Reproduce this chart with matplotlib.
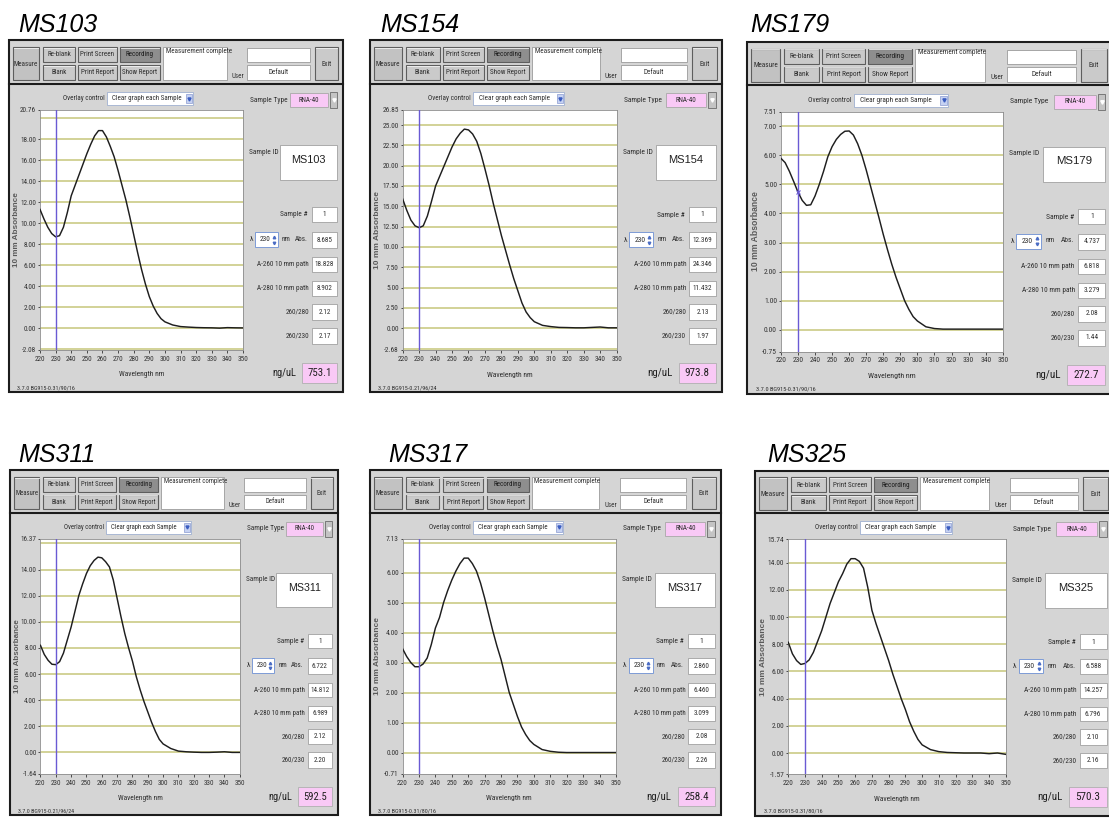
import numpy as np
import matplotlib
matplotlib.use('Agg')
import matplotlib.pyplot as plt
from matplotlib.patches import Rectangle
from matplotlib import font_manager as fm

# ---------------- data ----------------
wavelengths = [220, 222.5, 225, 227.5, 230, 232.5, 235, 237.5, 240, 242.5, 245, 247.5,
               250, 252.5, 255, 257.5, 260, 262.5, 265, 267.5, 270, 272.5, 275, 277.5,
               280, 282.5, 285, 287.5, 290, 292.5, 295, 297.5, 300, 305, 310, 315, 320,
               325, 330, 335, 340, 345, 350]

sample_ids = ['MS103', 'MS154', 'MS179', 'MS311', 'MS317', 'MS325']

abs_ms103 = [11.3, 10.4, 9.6, 9.0, 8.69, 8.8, 9.6, 11.0, 12.6, 13.6, 14.6, 15.6, 16.6, 17.5,
             18.3, 18.8, 18.8, 18.2, 17.3, 16.3, 15.0, 13.6, 12.2, 10.6, 8.9, 7.2, 5.6, 4.2,
             3.0, 2.1, 1.4, 0.9, 0.6, 0.3, 0.15, 0.1, 0.06, 0.04, 0.03, 0.0, 0.05, 0.03, 0.02]
abs_ms154 = [15.9, 14.5, 13.3, 12.6, 12.37, 12.6, 13.8, 15.6, 17.5, 18.7, 19.9, 21.1, 22.3,
             23.3, 24.0, 24.5, 24.4, 23.9, 23.0, 21.5, 19.6, 17.6, 15.4, 13.4, 11.4, 9.6, 7.8,
             6.1, 4.6, 3.1, 2.0, 1.3, 0.8, 0.35, 0.2, 0.1, 0.08, 0.05, 0.05, 0.1, 0.15, 0.05, 0.05]
abs_ms179 = [5.9, 5.75, 5.45, 5.1, 4.74, 4.45, 4.28, 4.3, 4.6, 5.0, 5.45, 5.95, 6.3, 6.55,
             6.72, 6.83, 6.84, 6.7, 6.4, 6.0, 5.5, 4.95, 4.4, 3.85, 3.28, 2.75, 2.25, 1.8,
             1.4, 1.0, 0.7, 0.45, 0.3, 0.1, 0.04, 0.02, 0.02, 0.02, 0.02, 0.02, 0.02, 0.02, 0.02]
abs_ms311 = [8.2, 7.5, 7.05, 6.75, 6.72, 6.95, 7.6, 8.6, 9.6, 10.8, 12.0, 12.9, 13.7, 14.3,
             14.7, 14.95, 14.9, 14.6, 14.2, 13.2, 11.8, 10.4, 9.1, 8.0, 6.99, 5.8, 4.8, 3.9,
             3.1, 2.3, 1.6, 1.0, 0.65, 0.3, 0.1, 0.05, 0.02, 0.0, 0.0, 0.02, 0.05, 0.0, 0.0]
abs_ms317 = [3.46, 3.2, 3.0, 2.86, 2.86, 2.95, 3.15, 3.6, 4.15, 4.5, 5.0, 5.4, 5.75, 6.05,
             6.3, 6.48, 6.48, 6.3, 6.05, 5.65, 5.15, 4.6, 4.05, 3.55, 3.1, 2.55, 2.0, 1.6,
             1.2, 0.85, 0.6, 0.4, 0.27, 0.1, 0.04, 0.01, 0.0, 0.0, 0.0, 0.0, 0.0, 0.0, 0.0]
abs_ms325 = [8.15, 7.3, 6.8, 6.52, 6.59, 6.85, 7.4, 8.2, 9.0, 10.0, 11.0, 11.8, 12.6, 13.2,
             13.9, 14.3, 14.3, 14.1, 13.6, 12.2, 10.5, 9.5, 8.6, 7.7, 6.8, 5.8, 4.9, 4.0,
             3.2, 2.3, 1.6, 1.0, 0.6, 0.25, 0.1, 0.04, 0.02, 0.0, 0.0, 0.0, -0.05, 0.0, -0.1]
spectra = [abs_ms103, abs_ms154, abs_ms179, abs_ms311, abs_ms317, abs_ms325]

y_limits = [(-2.08, 20.76), (-2.68, 26.85), (-0.75, 7.51),
            (-1.64, 16.37), (-0.71, 7.13), (-1.57, 15.74)]
grid_steps = [2, 2.5, 1, 2, 1, 2]
x_ticks = [220, 230, 240, 250, 260, 270, 280, 290, 300, 310, 320, 330, 340, 350]

cursor_nm = 230
abs_at_cursor = [8.685, 12.369, 4.737, 6.722, 2.860, 6.588]
a260_values = [18.828, 24.346, 6.818, 14.812, 6.460, 14.257]
a280_values = [8.902, 11.432, 3.279, 6.989, 3.099, 6.796]
ratio_260_280 = [2.12, 2.13, 2.08, 2.12, 2.08, 2.10]
ratio_260_230 = [2.17, 1.97, 1.44, 2.20, 2.26, 2.16]
conc_ng_ul = [753.1, 973.8, 272.7, 592.5, 258.4, 570.3]
footer_texts = ['3.7.0 BG915-0.31/90/16', '3.7.0 BG915-0.21/96/24', '3.7.0 BG915-0.31/90/16',
                '3.7.0 BG915-0.21/96/24', '3.7.0 BG915-0.31/80/16', '3.7.0 BG915-0.31/80/16']
sample_type = 'RNA-40'

# ---------------- fonts ----------------
_entries = fm.fontManager.ttflist
_names = {f.name for f in _entries}
NARROW_NAME = None
STRETCH = 'normal'
for cand in ['Liberation Sans Narrow', 'Arial Narrow', 'Roboto Condensed',
             'Open Sans Condensed', 'Noto Sans Condensed', 'DejaVu Sans Condensed']:
    if cand in _names:
        NARROW_NAME = cand
        break
if NARROW_NAME is None:
    for fam in ['DejaVu Sans', 'Noto Sans', 'Roboto', 'Open Sans']:
        if any(f.name == fam and f.stretch in ('condensed', 'semi-condensed')
               for f in _entries):
            NARROW_NAME = fam
            STRETCH = 'condensed'
            break
FS = 1.0 if NARROW_NAME else 0.84
NARROW = [NARROW_NAME or 'Liberation Sans', 'DejaVu Sans']
SANS = ['Liberation Sans', 'DejaVu Sans']
plt.rcParams['font.family'] = NARROW
plt.rcParams['font.stretch'] = STRETCH

# ---------------- layout ----------------
W, H = 1109, 818
RW, RH = 334.0, 352.0
frames = [(9, 40, 334, 352), (370, 40, 352, 352), (747, 41.5, 365, 352),
          (10, 470, 328, 345), (370, 470, 351, 345), (755, 470.5, 358, 345)]
title_xy = [(18, 32), (380, 32), (750, 32), (18, 462), (388, 462), (767, 462)]

PANEL = '#d5d5d5'
BTN = '#cacaca'
TXT = '#2e2e2e'
PINK = '#f9c9f6'
GRID = '#c6c67a'
CURSOR = '#6a5ad4'

fig = plt.figure(figsize=(W / 100, H / 100), dpi=100)
fig.patch.set_facecolor('white')
bg = fig.add_axes([0, 0, 1, 1])
bg.set_xlim(0, W)
bg.set_ylim(H, 0)
bg.axis('off')


def draw_panel(i):
    x0, y0, w, h = frames[i]
    sx, sy = w / RW, h / RH
    k = (sx + sy) / 2.0

    def X(u):
        return x0 + u * sx

    def Y(v):
        return y0 + v * sy

    def box(u0, v0, u1, v1, fc, ec='#6a6a6a', lw=0.7, z=2):
        bg.add_patch(Rectangle((X(u0), Y(v0)), (u1 - u0) * sx, (v1 - v0) * sy,
                               facecolor=fc, edgecolor=ec, linewidth=lw, zorder=z))

    def label(u, v, s, size=5.0, ha='center', color=TXT, family=None, va='center',
              scale=True, **kw):
        fsz = size * k * (FS if scale else 1.0)
        bg.text(X(u), Y(v), s, fontsize=fsz, ha=ha, va=va, color=color,
                family=family if family else NARROW,
                fontstretch=STRETCH if family is None else 'normal', zorder=6, **kw)

    def button(u0, v0, u1, v1, s, fc=BTN, tc=TXT):
        box(u0, v0, u1, v1, fc, '#5e5e5e', 0.8, 3)
        bg.plot([X(u0) + 0.8, X(u1) - 0.8], [Y(v0) + 0.8, Y(v0) + 0.8], color='#f2f2f2',
                lw=0.6, zorder=4)
        label((u0 + u1) / 2, (v0 + v1) / 2 + 0.5, s, 5.0, color=tc)

    # title
    bg.text(title_xy[i][0], title_xy[i][1], sample_ids[i], fontsize=18, style='italic',
            family=SANS, ha='left', va='baseline', color='black', zorder=6)

    # panel body
    box(0, 0, RW, RH, PANEL, '#1c1c1c', 1.5, 1)
    bg.plot([X(0), X(RW)], [Y(43.5), Y(43.5)], color='#1c1c1c', lw=1.5, zorder=3)

    # toolbar
    button(4, 7, 30, 40, 'Measure', fc='#c2c2c2')
    button(34, 7, 66, 22, 'Re-blank')
    button(34, 25, 66, 40, 'Blank')
    button(69, 7, 108, 22, 'Print Screen')
    button(69, 25, 108, 40, 'Print Report')
    button(111, 7, 151, 22, 'Recording', fc='#8e8e8e', tc='#1a1a1a')
    button(111, 25, 151, 40, 'Show Report')
    box(154, 7, 218, 40, 'white', '#9a9a9a', 0.6, 3)
    label(156.5, 11.5, 'Measurement complete', 5.0, ha='left')
    label(229, 36, 'User', 5.0)
    box(238, 8, 301, 22, 'white', '#9a9a9a', 0.6, 3)
    box(238, 25, 301, 40, 'white', '#9a9a9a', 0.6, 3)
    label(269.5, 32.5, 'Default', 5.0)
    button(306, 7, 329, 40, 'Exit')

    # overlay control
    label(96, 58.5, 'Overlay control', 5.0, ha='right')
    box(98, 52, 184, 65, 'white', '#9fb0d0', 0.6, 3)
    label(103, 58.5, 'Clear graph each Sample', 5.0, ha='left')
    box(177, 54, 183, 63, '#c6d2f2', '#8a9ad0', 0.5, 4)
    bg.plot([X(180)], [Y(58.5)], marker='v', ms=2.2 * k, color='#3a5cc0', zorder=5)

    # sample type
    label(241, 60, 'Sample Type', 5.3, ha='left')
    box(281, 53, 319, 67, PINK, '#a8a8a8', 0.6, 3)
    label(300, 60, sample_type, 5.0)
    box(321, 52, 328, 68, '#c4c4c4', '#6a6a6a', 0.6, 3)
    bg.plot([X(324.5)], [Y(60)], marker='v', ms=2.4 * k, color='white', zorder=5)

    # sample id
    label(240, 112, 'Sample ID', 5.3, ha='left')
    box(271, 105, 328, 140, 'white', '#a0a0a0', 0.6, 3)
    label(299.5, 120, sample_ids[i], 7.8, family=SANS, color='#202020', scale=False)

    # readouts
    label(299, 175, 'Sample #', 5.3, ha='right')
    box(303, 167, 328, 182, 'white', '#a0a0a0', 0.6, 3)
    label(315.5, 174.5, '1', 5.3)

    label(241, 199.5, 'λ', 5.3, ha='left')
    box(246, 192, 269, 207, 'white', '#7d9bd6', 0.7, 3)
    label(251, 199.5, str(cursor_nm), 5.3, ha='left')
    bg.plot([X(265)], [Y(196.5)], marker='^', ms=1.8 * k, color='#4a6cc4', zorder=5)
    bg.plot([X(265)], [Y(202.5)], marker='v', ms=1.8 * k, color='#4a6cc4', zorder=5)
    label(273, 199.5, 'nm', 5.1, ha='left')
    label(299, 199.5, 'Abs.', 5.1, ha='right')
    box(303, 192, 328, 208, 'white', '#a0a0a0', 0.6, 3)
    label(315.5, 200, f'{abs_at_cursor[i]:.3f}', 5.1)

    rows = [('A-260 10 mm path', f'{a260_values[i]:.3f}', 217, 232),
            ('A-280 10 mm path', f'{a280_values[i]:.3f}', 241, 256),
            ('260/280', f'{ratio_260_280[i]:.2f}', 264, 280),
            ('260/230', f'{ratio_260_230[i]:.2f}', 288, 304)]
    for name, val, v0, v1 in rows:
        label(300, (v0 + v1) / 2, name, 5.1, ha='right')
        box(303, v0, 328, v1, 'white', '#a0a0a0', 0.6, 3)
        label(315.5, (v0 + v1) / 2, val, 5.1)

    label(287, 333.5, 'ng/uL', 7.6, ha='right', color='#202020')
    box(293, 323, 328, 343, PINK, '#b0b0b0', 0.6, 3)
    label(310.5, 333.5, f'{conc_ng_ul[i]:.1f}', 7.8, color='#202020')

    label(8, 347.5, footer_texts[i], 4.3, ha='left')

    # spectrum plot
    px0, px1, py0, py1 = X(31), X(234), Y(70), Y(310)
    ax = fig.add_axes([px0 / W, 1 - py1 / H, (px1 - px0) / W, (py1 - py0) / H])
    ax.set_facecolor('white')
    lo, hi = y_limits[i]
    step = grid_steps[i]
    grid = np.arange(np.ceil(lo / step) * step, hi + 1e-9, step) + 0.0
    for g in grid:
        ax.axhline(g, color=GRID, lw=1.1, zorder=1)
    ax.plot(wavelengths, spectra[i], color='#1e1e1e', lw=1.05, zorder=3,
            solid_joinstyle='round')
    ax.axvline(cursor_nm, color=CURSOR, lw=1.0, zorder=4)
    if i == 2:
        ax.plot([cursor_nm], [abs_at_cursor[i]], marker='x', ms=3, mew=0.8,
                color=CURSOR, zorder=5)
    ax.set_xlim(220, 350)
    ax.set_ylim(lo, hi)
    rng = hi - lo
    labelled = [g for g in grid if (g - lo) > 0.05 * rng and (hi - g) > 0.05 * rng]
    yt = [lo] + labelled + [hi]
    ax.set_yticks(yt)
    ax.set_yticklabels([f'{(round(v, 2) + 0.0):.2f}'.replace('-0.00', '0.00') for v in yt])
    ax.set_xticks(x_ticks)
    ax.set_xticklabels([str(t) for t in x_ticks])
    ax.tick_params(axis='both', length=1.8, width=0.6, pad=1.0, labelsize=5.2 * k * FS,
                   colors='#333333', direction='out')
    ax.tick_params(axis='x', pad=2.5)
    for t in ax.get_xticklabels() + ax.get_yticklabels():
        t.set_fontstretch(STRETCH)
    for sp in ax.spines.values():
        sp.set_color('#8c8c8c')
        sp.set_linewidth(0.6)
    ax.annotate('Wavelength nm', xy=(0.5, 0), xycoords='axes fraction',
                xytext=(0, -25 * sy / 1.389), textcoords='offset points',
                ha='center', va='center', fontsize=5.4 * k * FS, color=TXT,
                fontstretch=STRETCH)
    ax.annotate('10 mm Absorbance', xy=(0, 0.5), xycoords='axes fraction',
                xytext=(-23.5 * sx / 1.389, 0), textcoords='offset points',
                ha='center', va='center', rotation=90, fontsize=5.9 * k,
                color='#5a5a5a', family=SANS, fontweight='bold')


for i in range(6):
    draw_panel(i)

print('narrow font:', NARROW_NAME, STRETCH)
fig.savefig('out.png', dpi=100, facecolor='white')
